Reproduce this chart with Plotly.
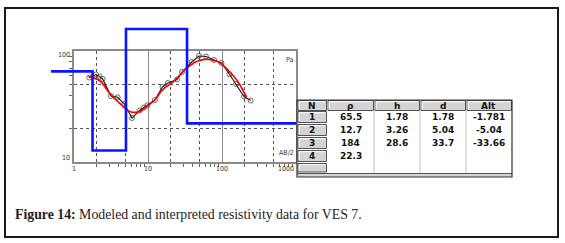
import math
import plotly.graph_objects as go

# ---------------- data ----------------
# observed apparent resistivity (AB/2 in m, rho_a in ohm.m)
ab2_obs = [1.61, 1.98, 2.21, 2.44, 3.16, 3.89, 4.79, 6.08, 7.68, 8.83, 9.79, 12.4,
           15.7, 18.6, 24.7, 28.8, 39.0, 48.9, 60.8, 78.0, 98.4, 126, 155, 198, 244]
rho_obs = [57.7, 61.4, 58.9, 56.0, 39.3, 38.3, 33.3, 24.9, 29.1, 31.0, 32.4, 36.2,
           47.4, 51.5, 55.4, 64.7, 79.6, 90.2, 89.2, 83.0, 78.0, 61.7, 50.4, 38.9, 35.8]

# computed (model response) curve
ab2_calc = [1.57, 2.25, 3.07, 4.41, 5.62, 7.8, 9.4, 12.4, 15.9, 22.0, 33.1, 45.5,
            58.9, 73.3, 94, 124, 164, 216]
rho_calc = [58.7, 53.7, 41.0, 32.6, 28.5, 28.5, 31.3, 36.2, 45.0, 52.9, 69.6, 80.4,
            84.2, 83.0, 78.5, 66.0, 52.9, 38.1]

# layered model as drawn (step curve); layer 3 drawn clipped at window top
model_depth = [0.49, 1.78, 5.04, 33.7, 1000]
model_rho = [65.5, 12.7, 158, 22.3, 22.3]

# table
tab_headers = ["N", "ρ", "h", "d", "Alt"]
tab_N = ["1", "2", "3", "4"]
tab_rho = ["65.5", "12.7", "184", "22.3"]
tab_h = ["1.78", "3.26", "28.6", ""]
tab_d = ["1.78", "5.04", "33.7", ""]
tab_alt = ["-1.781", "-5.04", "-33.66", ""]

x_tick_vals = [1, 10, 100, 1000]
x_tick_text = ["1", "10", "100", "1000"]
y_tick_vals = [10, 100]
y_tick_text = ["10", "100"]
x_dot_grid = [2, 5, 20, 50, 200, 500]
y_dot_grid = [20, 50]

caption = "<b>Figure 14:</b> Modeled and interpreted resistivity data for VES 7."

# ---------------- layout helpers ----------------
W, H = 565, 243


def px(x):
    return x / W


def py(y):
    return 1 - y / H


fig = go.Figure()

# observed data
fig.add_trace(go.Scatter(x=ab2_obs, y=rho_obs, mode="lines+markers",
                         line=dict(color="#111111", width=1.1),
                         marker=dict(symbol="circle-open", size=5, color="#444444",
                                     line=dict(width=0.8)),
                         xaxis="x", yaxis="y", showlegend=False))
# computed curve
fig.add_trace(go.Scatter(x=ab2_calc, y=rho_calc, mode="lines",
                         line=dict(color="#ff0000", width=1.7, shape="spline"),
                         xaxis="x", yaxis="y", showlegend=False))
# dummy trace for overlay grid axes
fig.add_trace(go.Scatter(x=[10], y=[30], mode="markers", marker=dict(opacity=0),
                         xaxis="x3", yaxis="y3", showlegend=False, hoverinfo="skip"))
# layered model (wider subplot so it can leave the framed box)
fig.add_trace(go.Scatter(x=model_depth, y=model_rho, mode="lines",
                         line=dict(color="#0a14ff", width=2.6, shape="hv"),
                         xaxis="x2", yaxis="y2", showlegend=False))

minor_x = [m * 10 ** d for d in range(3) for m in range(2, 10)]
minor_y = [m * 10 for m in range(2, 10)]

fig.update_layout(
    width=W, height=H, margin=dict(l=0, r=0, t=0, b=0),
    paper_bgcolor="white", plot_bgcolor="rgba(0,0,0,0)",
    xaxis=dict(type="log", range=[0, 3], domain=[px(74), px(296)],
               tickvals=x_tick_vals, showticklabels=False, ticks="",
               showgrid=True, gridcolor="#8a8a8a", gridwidth=1,
               showline=True, mirror=True, linecolor="#8a8a8a", linewidth=2,
               minor=dict(tickvals=minor_x, ticks="outside", ticklen=3,
                          tickcolor="#666666", showgrid=False),
               zeroline=False),
    yaxis=dict(type="log", range=[1, 2], domain=[py(162), py(51)],
               tickvals=y_tick_vals, showticklabels=False, ticks="",
               showgrid=True, gridcolor="#8a8a8a", gridwidth=1,
               showline=True, mirror=True, linecolor="#8a8a8a", linewidth=2,
               minor=dict(tickvals=minor_y, ticks="outside", ticklen=3,
                          tickcolor="#666666", showgrid=False),
               zeroline=False),
    xaxis3=dict(type="log", range=[0, 3], overlaying="x", tickvals=x_dot_grid,
                showticklabels=False, ticks="", showgrid=True, griddash="dot",
                gridcolor="#555555", gridwidth=1, showline=False, zeroline=False),
    yaxis3=dict(type="log", range=[1, 2], overlaying="y", tickvals=y_dot_grid,
                showticklabels=False, ticks="", showgrid=True, griddash="dot",
                gridcolor="#555555", gridwidth=1, showline=False, zeroline=False),
    xaxis2=dict(type="log", range=[(45 - 74) / 74, 3], domain=[px(45), px(296)],
                visible=False, anchor="y2"),
    yaxis2=dict(type="log", range=[1, 2 + 26 / 111], domain=[py(162), py(25)],
                visible=False, anchor="x2"),
)

shapes = []
ann = []

# outer frame
shapes.append(dict(type="rect", xref="paper", yref="paper",
                   x0=px(5), x1=px(558), y0=py(237), y1=py(8),
                   line=dict(color="#1a1a1a", width=2), fillcolor="rgba(0,0,0,0)"))

tick_font = dict(family="DejaVu Sans Condensed, DejaVu Sans", size=7, color="#333333")
for v, t in zip(x_tick_vals, x_tick_text):
    ann.append(dict(xref="x", yref="paper", x=math.log10(v), y=py(168.5), text=t,
                    showarrow=False, font=tick_font,
                    xanchor="right" if v == x_tick_vals[-1] else "center",
                    yanchor="middle"))
for v, t, yy in zip(y_tick_vals, y_tick_text, [158, 55]):
    ann.append(dict(xref="paper", yref="paper", x=px(72), y=py(yy), text=t,
                    showarrow=False, font=tick_font, xanchor="right", yanchor="middle"))
ann.append(dict(xref="paper", yref="paper", x=px(295), y=py(60), text="Pa",
                showarrow=False, font=tick_font, xanchor="right", yanchor="middle"))
ann.append(dict(xref="paper", yref="paper", x=px(296), y=py(153), text="AB/2",
                showarrow=False, font=tick_font, xanchor="right", yanchor="middle"))

# ---------------- table ----------------
col_x = [297, 327, 374, 420, 466, 512]
top, head_h, row_h = 100, 10.5, 13
rows_end = top + head_h + row_h * 4  # 162.5
empty_end = 173
bottom = 177
gray = "#d4d4d4"
dark = "#555555"


def rect(x0, y0, x1, y1, fill, line_color=None, lw=1):
    shapes.append(dict(type="rect", xref="paper", yref="paper",
                       x0=px(x0), x1=px(x1), y0=py(y1), y1=py(y0),
                       fillcolor=fill,
                       line=dict(color=line_color or "rgba(0,0,0,0)", width=lw if line_color else 0)))


def line(x0, y0, x1, y1, color, lw=1):
    shapes.append(dict(type="line", xref="paper", yref="paper",
                       x0=px(x0), x1=px(x1), y0=py(y0), y1=py(y1),
                       line=dict(color=color, width=lw)))


# white table background
rect(col_x[0], top, col_x[-1], bottom, "white")
# data column separators
for cx in col_x[2:-1]:
    line(cx, top + head_h, cx, bottom, "#c4c4c4", 1)


def bevel_cell(x0, y0, x1, y1):
    rect(x0, y0, x1, y1, gray, dark, 1)
    line(x0 + 1.5, y0 + 1.2, x1 - 1.5, y0 + 1.2, "white", 1)
    line(x0 + 1.2, y0 + 1.2, x0 + 1.2, y1 - 1.5, "white", 1)


# header cells
for i in range(5):
    bevel_cell(col_x[i] + 1, top + 0.5, col_x[i + 1] - 0.5, top + head_h)
# N column cells
for r in range(4):
    y0 = top + head_h + r * row_h
    bevel_cell(col_x[0] + 1, y0 + 1, col_x[1] - 0.5, y0 + row_h - 1)
bevel_cell(col_x[0] + 1, rows_end + 1, col_x[1] - 0.5, empty_end - 1)
# bottom strip
rect(col_x[0], empty_end + 0.5, col_x[-1], bottom, gray)
line(col_x[0], empty_end + 0.5, col_x[-1], empty_end + 0.5, dark, 1)
# outer table border
rect(col_x[0], top, col_x[-1], bottom, "rgba(0,0,0,0)", "#333333", 1.2)

tfont = dict(family="DejaVu Sans", size=9, color="#111111")
for i, h in enumerate(tab_headers):
    ann.append(dict(xref="paper", yref="paper", x=px((col_x[i] + col_x[i + 1]) / 2),
                    y=py(top + head_h / 2 + 0.3), text="<b>%s</b>" % h, showarrow=False,
                    font=tfont, xanchor="center", yanchor="middle"))
columns = [tab_N, tab_rho, tab_h, tab_d, tab_alt]
for c, colvals in enumerate(columns):
    for r, v in enumerate(colvals):
        if v == "":
            continue
        ann.append(dict(xref="paper", yref="paper", x=px((col_x[c] + col_x[c + 1]) / 2),
                        y=py(top + head_h + r * row_h + row_h / 2), text="<b>%s</b>" % v,
                        showarrow=False, font=tfont, xanchor="center", yanchor="middle"))

# caption
ann.append(dict(xref="paper", yref="paper", x=px(13), y=py(214), text=caption,
                showarrow=False, xanchor="left", yanchor="middle",
                font=dict(family="Liberation Serif, DejaVu Serif", size=13.8, color="#222222")))

fig.update_layout(shapes=shapes, annotations=ann)
fig.write_html("out.html", config={"displayModeBar": False},
               post_script="document.body.style.margin='0';document.body.style.overflow='hidden';")
